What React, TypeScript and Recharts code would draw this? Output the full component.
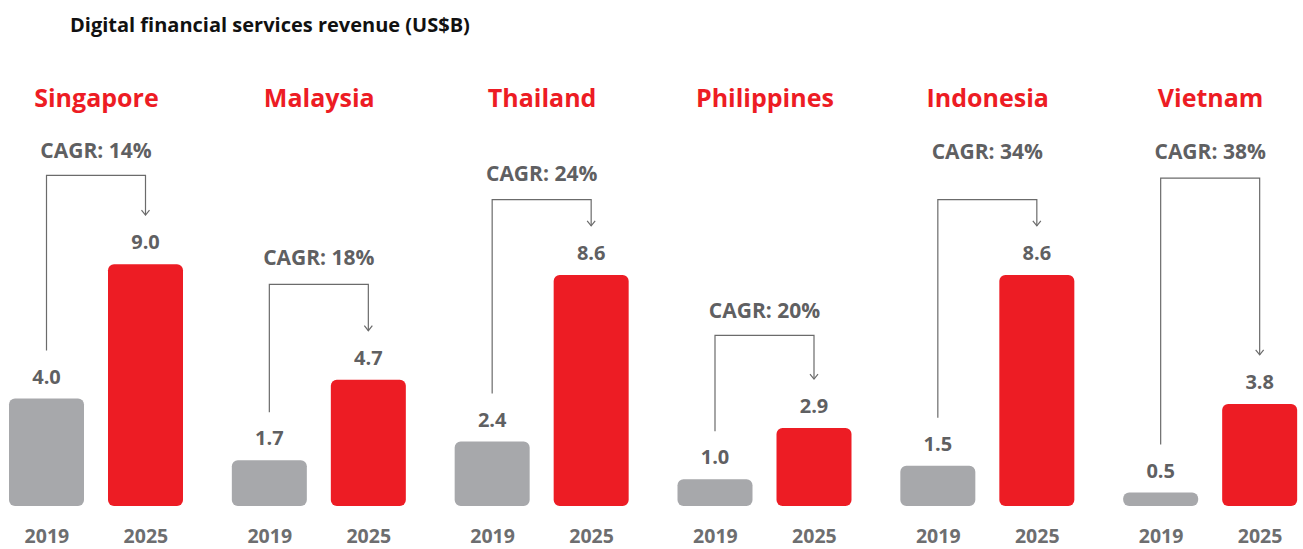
import React from 'react';
import { BarChart, Bar, XAxis, YAxis, LabelList, Rectangle } from 'recharts';

const countries = ['Singapore', 'Malaysia', 'Thailand', 'Philippines', 'Indonesia', 'Vietnam'];
const revenue2019 = [4.0, 1.7, 2.4, 1.0, 1.5, 0.5];
const revenue2025 = [9.0, 4.7, 8.6, 2.9, 8.6, 3.8];
const cagr = [14, 18, 24, 20, 34, 38];
const years = ['2019', '2025'];
// where each CAGR bracket and its label sit, in US$B on the value axis
const bracketLevel = [12.3, 8.25, 11.4, 6.35, 11.4, 12.2];
const cagrLabelLevel = [12.95, 8.95, 12.1, 7.0, 12.9, 12.9];

const data = countries.map((country, i) => ({
  country,
  v2019: revenue2019[i],
  v2025: revenue2025[i],
  cagr: cagr[i],
}));

const FONT = '"Open Sans", sans-serif';
const RED = '#ED1C24';
const GRAY = '#A7A8AB';
const TEXT = '#5F6062';
const YEAR_TEXT = '#6D6E70';
const LINE = '#6B6B6B';
const BAR_SIZE = 75;
const BAR_GAP = 24;

function RedBarWithBracket(props: any) {
  const { x, y, width, height, fill } = props;
  const d = props.payload ?? data[props.index];
  const i = countries.indexOf(d.country);
  const base = y + height;
  const ppu = height / d.v2025;
  const cx25 = x + width / 2;
  const cx19 = cx25 - width - BAR_GAP;
  const mid = (cx19 + cx25) / 2;
  const top19 = base - d.v2019 * ppu;
  const by = base - bracketLevel[i] * ppu;
  const ly = base - cagrLabelLevel[i] * ppu;
  const tip = y - 49;
  return (
    <g>
      <Rectangle x={x} y={y} width={width} height={height} fill={fill} radius={6} />
      <polyline
        points={`${cx19},${top19 - 48} ${cx19},${by} ${cx25},${by} ${cx25},${tip}`}
        fill="none"
        stroke={LINE}
        strokeWidth={1.2}
      />
      <polyline
        points={`${cx25 - 4},${tip - 5} ${cx25},${tip} ${cx25 + 4},${tip - 5}`}
        fill="none"
        stroke={LINE}
        strokeWidth={1.2}
      />
      <text x={mid} y={ly} textAnchor="middle" fill={TEXT} fontSize={21} fontWeight={700} fontFamily={FONT}>
        CAGR: {d.cagr}%
      </text>
    </g>
  );
}

function CountryTick({ x, payload }: any) {
  return (
    <text x={x} y={107} textAnchor="middle" fill={RED} fontSize={25} fontWeight={700} fontFamily={FONT}>
      {payload.value}
    </text>
  );
}

function YearTick({ x }: any) {
  const half = (BAR_SIZE + BAR_GAP) / 2;
  return (
    <g>
      {years.map((yr, k) => (
        <text
          key={yr}
          x={x + (k === 0 ? -half : half)}
          y={543}
          textAnchor="middle"
          fill={YEAR_TEXT}
          fontSize={19.5}
          fontWeight={700}
          fontFamily={FONT}
        >
          {yr}
        </text>
      ))}
    </g>
  );
}

const valueLabel = {
  position: 'top' as const,
  offset: 15,
  fill: TEXT,
  fontSize: 20,
  fontWeight: 700,
  fontFamily: FONT,
  formatter: (v: any) => Number(v).toFixed(1),
};

export default function App() {
  return (
    <div style={{ position: 'absolute', left: 0, top: 0, width: 1303, height: 549, overflow: 'hidden', background: '#fff' }}>
      <div
        style={{
          position: 'absolute',
          left: 70,
          top: 11,
          fontFamily: FONT,
          fontSize: 20,
          fontWeight: 700,
          lineHeight: '28px',
          color: '#111',
          whiteSpace: 'nowrap',
        }}
      >
        Digital financial services revenue (US$B)
      </div>
      <div style={{ position: 'absolute', left: -15, top: 0 }}>
        <BarChart
          width={1337}
          height={549}
          data={data}
          margin={{ top: 46, right: 0, bottom: 0, left: 0 }}
          barSize={BAR_SIZE}
          barGap={BAR_GAP}
        >
          <XAxis
            xAxisId="top"
            orientation="top"
            dataKey="country"
            height={30}
            axisLine={false}
            tickLine={false}
            interval={0}
            tick={<CountryTick />}
          />
          <XAxis dataKey="country" height={43} axisLine={false} tickLine={false} interval={0} tick={<YearTick />} />
          <YAxis hide domain={[0, 16]} />
          <Bar dataKey="v2019" fill={GRAY} radius={6} isAnimationActive={false}>
            <LabelList dataKey="v2019" {...valueLabel} />
          </Bar>
          <Bar dataKey="v2025" fill={RED} shape={<RedBarWithBracket />} isAnimationActive={false}>
            <LabelList dataKey="v2025" {...valueLabel} />
          </Bar>
        </BarChart>
      </div>
    </div>
  );
}
